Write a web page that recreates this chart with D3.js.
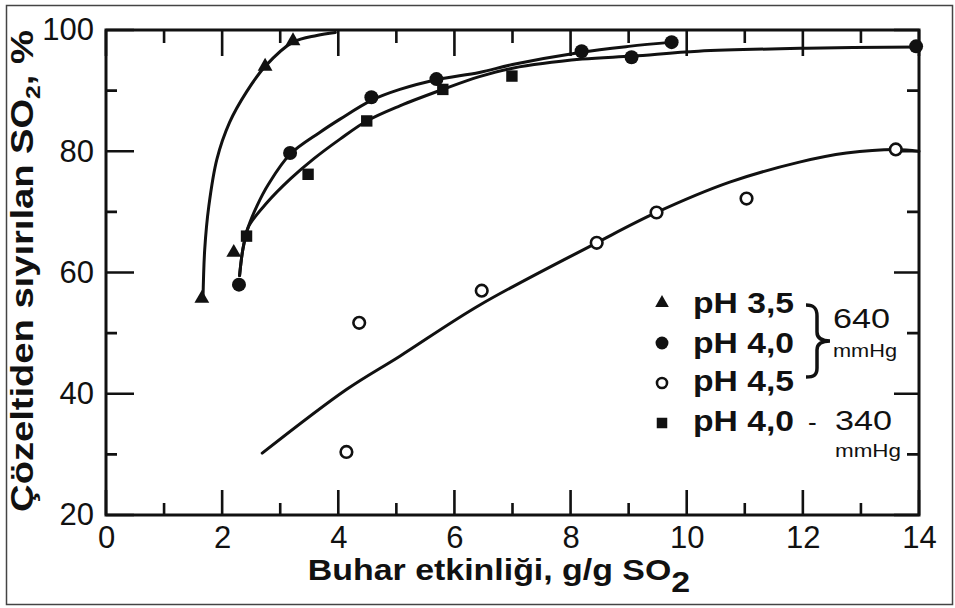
<!DOCTYPE html>
<html><head><meta charset="utf-8">
<script src="https://cdn.jsdelivr.net/npm/d3@7"></script>
<style>body{margin:0;background:#fff}svg{display:block}text{font-family:"Liberation Sans",Arial,sans-serif;fill:#111}</style>
</head><body><svg id="c" width="955" height="608"></svg>
<script>
// ---- data ----
const xMajorTicks = [0, 2, 4, 6, 8, 10, 12, 14];
const xMinorTicks = [1, 3, 5, 7, 9, 11, 13];
const yMajorTicks = [20, 40, 60, 80, 100];
const yMinorTicks = [30, 50, 70, 90];

const pH35_x = [1.65, 2.2, 2.74, 3.22];
const pH35_y = [55.7, 63.3, 94.0, 98.2];
const pH40_640_x = [2.29, 3.17, 4.57, 5.69, 8.19, 9.05, 9.74, 13.95];
const pH40_640_y = [58.0, 79.7, 88.9, 91.9, 96.5, 95.5, 98.0, 97.3];
const pH45_x = [4.14, 4.36, 6.47, 8.45, 9.48, 11.03, 13.6];
const pH45_y = [30.4, 51.7, 57.0, 64.9, 69.9, 72.2, 80.3];
const pH40_340_x = [2.42, 3.48, 4.49, 5.8, 6.99];
const pH40_340_y = [66.0, 76.2, 85.0, 90.2, 92.4];

// fitted curves drawn in the figure
const curve35_x = [1.67, 1.70, 1.77, 1.91, 2.13, 2.42, 2.74, 3.22, 3.63, 3.95];
const curve35_y = [55.5, 63.8, 70.9, 78.7, 84.8, 89.8, 94.0, 98.0, 99.1, 99.6];
const curve40a_x = [2.3, 2.36, 2.45, 2.6, 2.8, 3.17, 3.68, 4.03, 4.57, 5.06, 5.69, 6.43, 7.0, 8.16, 9.0, 9.76];
const curve40a_y = [59.5, 64.0, 67.5, 71.0, 74.6, 79.5, 83.1, 85.3, 88.4, 90.2, 91.8, 93.0, 94.3, 96.3, 97.3, 98.0];
const curve40b_x = [2.3, 2.36, 2.45, 2.77, 3.17, 3.57, 4.03, 4.49, 5.06, 5.8, 6.43, 7.0, 8.2, 9.07, 10.2, 12.07, 14.0];
const curve40b_y = [59.5, 64.0, 67.5, 71.5, 75.4, 78.7, 82.0, 85.0, 87.5, 90.2, 92.3, 93.7, 95.2, 95.7, 96.5, 97.0, 97.2];
const curve45_x = [2.69, 4.14, 5.06, 6.43, 8.45, 9.48, 10.74, 11.94, 12.75, 13.6, 14.0];
const curve45_y = [30.2, 40.7, 46.2, 54.6, 64.9, 69.9, 74.9, 78.2, 79.7, 80.3, 80.0];

const legendLabels = ["pH 3,5", "pH 4,0", "pH 4,5", "pH 4,0"];
const legendSymbols = ["triangle", "dot", "ring", "square"];

// ---- drawing ----
const svg = d3.select("#c");
const x = d3.scaleLinear().domain([0, 14]).range([106, 919]);
const y = d3.scaleLinear().domain([20, 100]).range([515, 30]);
const ink = "#111";

svg.append("rect").attr("x", 6.5).attr("y", 5.5).attr("width", 946).attr("height", 599)
  .attr("fill", "none").attr("stroke", "#444").attr("stroke-width", 1.5);

function styleAxis(g) {
  g.select(".domain").remove();
  g.selectAll(".tick line").remove();
  g.selectAll("text").attr("font-size", 31).attr("fill", ink)
   .attr("font-family", '"Liberation Sans", Arial, sans-serif');
}
// tick labels via d3 axes
svg.append("g").attr("transform", "translate(0,515)")
  .call(d3.axisBottom(x).tickValues(xMajorTicks).tickSize(0).tickPadding(11).tickFormat(d3.format("d"))).call(styleAxis);
svg.append("g").attr("transform", "translate(106,0)")
  .call(d3.axisLeft(y).tickValues(yMajorTicks).tickSize(0).tickPadding(12).tickFormat(d3.format("d"))).call(styleAxis);

// inward tick marks on all four sides (drawn as paths)
const tg = svg.append("g");
function xTicks(vals, y0, len) {
  tg.append("path")
    .attr("d", vals.map(d => `M${x(d)},${y0}V${y0 + len}`).join(""))
    .attr("fill", "none").attr("stroke", ink).attr("stroke-width", 2.6);
}
function yTicks(vals, x0, len) {
  tg.append("path")
    .attr("d", vals.map(d => `M${x0},${y(d)}H${x0 + len}`).join(""))
    .attr("fill", "none").attr("stroke", ink).attr("stroke-width", 2.6);
}
xTicks(xMajorTicks, y(20), -25);
xTicks(xMinorTicks, y(20), -12);
xTicks(xMajorTicks, y(100), 26);
xTicks(xMinorTicks, y(100), 13);
yTicks(yMajorTicks, x(0), 28);
yTicks(yMinorTicks, x(0), 11);
yTicks(yMajorTicks, x(14), -25);
yTicks(yMinorTicks, x(14), -12);

// frame
svg.append("rect").attr("x", x(0)).attr("y", y(100)).attr("width", x(14) - x(0)).attr("height", y(20) - y(100))
  .attr("fill", "none").attr("stroke", ink).attr("stroke-width", 3);

// curves
const lineGen = d3.line().x(d => x(d[0])).y(d => y(d[1])).curve(d3.curveCatmullRom.alpha(0.5));
const zip = (a, b) => a.map((v, i) => [v, b[i]]);
[[curve35_x, curve35_y], [curve40a_x, curve40a_y], [curve40b_x, curve40b_y], [curve45_x, curve45_y]]
  .forEach(([cx, cy]) => {
    svg.append("path").datum(zip(cx, cy)).attr("d", lineGen)
      .attr("fill", "none").attr("stroke", ink).attr("stroke-width", 3).attr("stroke-linecap", "round");
  });

// markers
function marker(g, kind, px, py, scale) {
  const s = scale || 1;
  if (kind === "triangle") {
    g.append("path").attr("d", d3.symbol(d3.symbolTriangle, 95 * s)()).attr("transform", `translate(${px},${py})`).attr("fill", ink);
  } else if (kind === "square") {
    g.append("path").attr("d", d3.symbol(d3.symbolSquare, 130 * s)()).attr("transform", `translate(${px},${py})`).attr("fill", ink);
  } else if (kind === "dot") {
    g.append("circle").attr("cx", px).attr("cy", py).attr("r", 7 * Math.sqrt(s)).attr("fill", ink);
  } else {
    g.append("circle").attr("cx", px).attr("cy", py).attr("r", 5.8 * Math.sqrt(s)).attr("fill", "#fff").attr("stroke", ink).attr("stroke-width", 2.6);
  }
}
const mg = svg.append("g");
zip(pH35_x, pH35_y).forEach(d => marker(mg, "triangle", x(d[0]), y(d[1])));
zip(pH40_640_x, pH40_640_y).forEach(d => marker(mg, "dot", x(d[0]), y(d[1])));
zip(pH45_x, pH45_y).forEach(d => marker(mg, "ring", x(d[0]), y(d[1])));
zip(pH40_340_x, pH40_340_y).forEach(d => marker(mg, "square", x(d[0]), y(d[1])));

// legend
const lg = svg.append("g");
const rowBase = [313, 353, 391, 431];
const rowMark = [303, 343, 383, 423];
legendLabels.forEach((lab, i) => {
  marker(lg, legendSymbols[i], 662, rowMark[i], i === 2 ? 0.75 : 0.85);
  lg.append("text").attr("x", 693).attr("y", rowBase[i]).attr("font-size", 29).attr("font-weight", "bold")
    .attr("textLength", 101).attr("lengthAdjust", "spacingAndGlyphs").text(lab);
});
lg.append("text").attr("x", 808).attr("y", 431).attr("font-size", 26).text("-");
lg.append("path").attr("d", "M806,305 C814,305 817,308 817,316 L817,332 C817,338 821,341 830,341 C821,341 817,344 817,350 L817,368 C817,375 814,377 806,377")
  .attr("fill", "none").attr("stroke", ink).attr("stroke-width", 3.5);
lg.append("text").attr("x", 833).attr("y", 328).attr("font-size", 28).attr("textLength", 57).attr("lengthAdjust", "spacingAndGlyphs").text("640");
lg.append("text").attr("x", 833).attr("y", 357).attr("font-size", 18).attr("textLength", 64).attr("lengthAdjust", "spacingAndGlyphs").text("mmHg");
lg.append("text").attr("x", 835).attr("y", 430).attr("font-size", 28).attr("textLength", 57).attr("lengthAdjust", "spacingAndGlyphs").text("340");
lg.append("text").attr("x", 835).attr("y", 457).attr("font-size", 18).attr("textLength", 66).attr("lengthAdjust", "spacingAndGlyphs").text("mmHg");

// axis titles
const xt = svg.append("text").attr("transform", "translate(499,580) scale(1.13,1)")
  .attr("text-anchor", "middle").attr("font-size", 30).attr("font-weight", "bold");
xt.append("tspan").text("Buhar etkinliği, g/g SO");
xt.append("tspan").attr("dy", 12).text("2");

const yt = svg.append("text").attr("transform", "translate(33,271) rotate(-90) scale(1.23,1)")
  .attr("text-anchor", "middle").attr("font-size", 31).attr("font-weight", "bold");
yt.append("tspan").text("Çözeltiden sıyırılan SO");
yt.append("tspan").attr("dy", 7).attr("font-size", 20).text("2");
yt.append("tspan").attr("dy", -7).text(", %");
</script></body></html>
